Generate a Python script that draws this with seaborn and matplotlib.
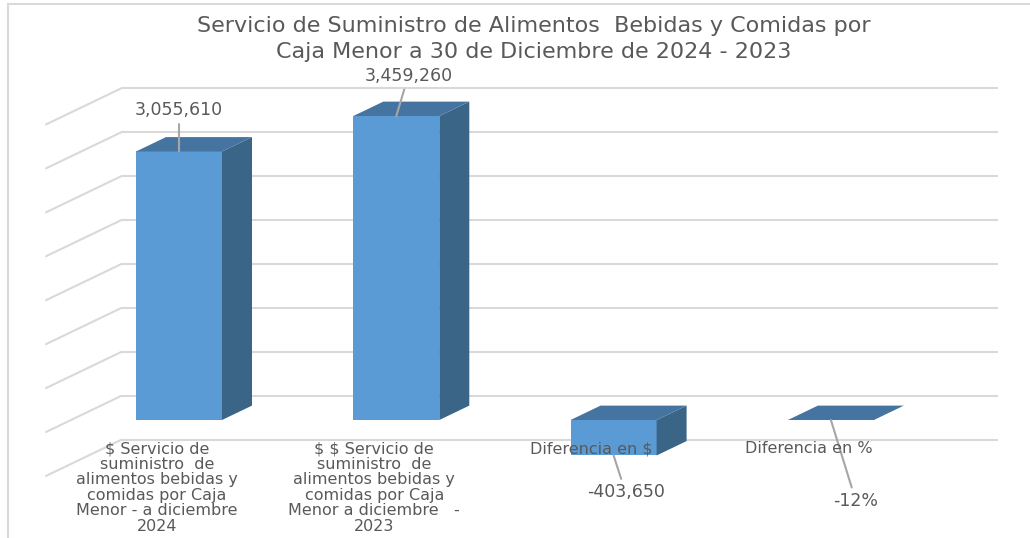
import matplotlib
matplotlib.use("Agg")
import matplotlib.pyplot as plt
from matplotlib.patches import Polygon
from matplotlib.lines import Line2D
import seaborn as sns
import pandas as pd

# ---------------- data ----------------
categories = [
    "$ Servicio de\nsuministro  de\nalimentos bebidas y\ncomidas por Caja\nMenor - a diciembre\n2024",
    "$ $ Servicio de\nsuministro  de\nalimentos bebidas y\ncomidas por Caja\nMenor a diciembre   -\n2023",
    "Diferencia en $",
    "Diferencia en %",
]
values = [3055610, 3459260, -403650, -0.12]
value_labels = ["3,055,610", "3,459,260", "-403,650", "-12%"]
grid_values = [-500000, 0, 500000, 1000000, 1500000, 2000000, 2500000, 3000000, 3500000]
title = ("Servicio de Suministro de Alimentos  Bebidas y Comidas por\n"
         "Caja Menor a 30 de Diciembre de 2024 - 2023")

# ---------------- layout / style ----------------
W, H = 1030, 538
CAT_PX = 217.3          # pixels per category step
X0_PX = 179.0           # pixel x of first bar centre
ZERO_PX = 420.0         # pixel y (from top) of zero on the bar front
VAL_PER_PX = 11380.0    # value units per pixel
BAR_DEPTH = (30, 14.4)  # bar depth in px (right, up)
WALL_BACK = (50, 24)    # back wall offset from bar front (px)
WALL_FRONT = (-25, -12) # front edge of side wall from bar front (px)
WALL_LEFT_PX = 121
WALL_RIGHT_PX = 998
CAT_LABEL_TOP_PX = 441
# label offsets in pixels (dx, dy) relative to bar anchor
label_offsets = [(0, 41), (12, 40), (12, -37), (25, -81)]

FRONT = "#5B9BD5"
TOP = "#4674A1"
SIDE = "#3A6587"
GRID = "#D9D9D9"
TEXT = "#595959"
LEADER = "#A6A6A6"

sns.set_theme(style="white")
plt.rcParams["font.family"] = ["DejaVu Sans"]
plt.rcParams["text.parse_math"] = False

fig = plt.figure(figsize=(W / 100, H / 100), dpi=100)
ax = fig.add_axes([0, 0, 1, 1])

df = pd.DataFrame({"cat": categories, "val": values})
sns.barplot(data=df, x="cat", y="val", color=FRONT, width=86 / CAT_PX,
            saturation=1, ax=ax, zorder=3, linewidth=0)

ax.set_xlim(-X0_PX / CAT_PX, (W - X0_PX) / CAT_PX)
ax.set_ylim(-(H - ZERO_PX) * VAL_PER_PX, ZERO_PX * VAL_PER_PX)
ax.axis("off")


def dx(px):
    return px / CAT_PX


def dy(px):
    return px * VAL_PER_PX


# back wall + side wall grid
x_back_left = (WALL_LEFT_PX - X0_PX) / CAT_PX
x_back_right = (WALL_RIGHT_PX - X0_PX) / CAT_PX
wall_depth_x = dx(WALL_BACK[0] - WALL_FRONT[0])
wall_depth_y = dy(WALL_BACK[1] - WALL_FRONT[1])
for v in grid_values:
    yb = v + dy(WALL_BACK[1])
    ax.plot([x_back_left, x_back_right], [yb, yb], color=GRID, lw=1.5, zorder=1,
            solid_capstyle="butt")
    ax.plot([x_back_left, x_back_left - wall_depth_x], [yb, yb - wall_depth_y],
            color=GRID, lw=1.5, zorder=1)

# 3D faces for each bar
ddx, ddy = dx(BAR_DEPTH[0]), dy(BAR_DEPTH[1])
bars = sorted(ax.patches, key=lambda p: p.get_x())
for p in bars:
    x0, w = p.get_x(), p.get_width()
    y0, h = p.get_y(), p.get_height()
    top = max(y0, y0 + h)
    bot = min(y0, y0 + h)
    side = Polygon([(x0 + w, bot), (x0 + w, top), (x0 + w + ddx, top + ddy),
                    (x0 + w + ddx, bot + ddy)], closed=True, fc=SIDE, ec="none", zorder=3)
    topf = Polygon([(x0, top), (x0 + w, top), (x0 + w + ddx, top + ddy),
                    (x0 + ddx, top + ddy)], closed=True, fc=TOP, ec="none", zorder=3)
    ax.add_patch(side)
    ax.add_patch(topf)

# data labels with leader lines
for p, lab, off in zip(bars, value_labels, label_offsets):
    cx = p.get_x() + p.get_width() / 2
    y0, h = p.get_y(), p.get_height()
    anchor = max(y0, y0 + h) if off[1] > 0 else min(y0, y0 + h)
    ax.annotate(lab, xy=(cx, anchor), xytext=off, textcoords="offset pixels",
                ha="center", va="center", fontsize=12.5, color=TEXT,
                arrowprops=dict(arrowstyle="-", color=LEADER, lw=1.5,
                                shrinkA=1, shrinkB=0), zorder=5)

# category labels at the front plane
label_y = dy(ZERO_PX - CAT_LABEL_TOP_PX)
for i, cat in enumerate(categories):
    xl = i + dx(WALL_FRONT[0]) + dx(3)
    ax.text(xl, label_y, cat, ha="center", va="top",
            fontsize=11.5, color=TEXT, linespacing=1.05, zorder=5)

# title
fig.text(534 / W, 1 - 39 / H, title, ha="center", va="center", fontsize=16,
         color=TEXT, linespacing=1.35)

# chart frame (left and top borders)
fig.add_artist(Line2D([8 / W, 8 / W], [0, 1 - 4 / H], color=GRID, lw=1.5))
fig.add_artist(Line2D([8 / W, 1], [1 - 4 / H, 1 - 4 / H], color=GRID, lw=1.5))

fig.savefig("out.png", dpi=100)
